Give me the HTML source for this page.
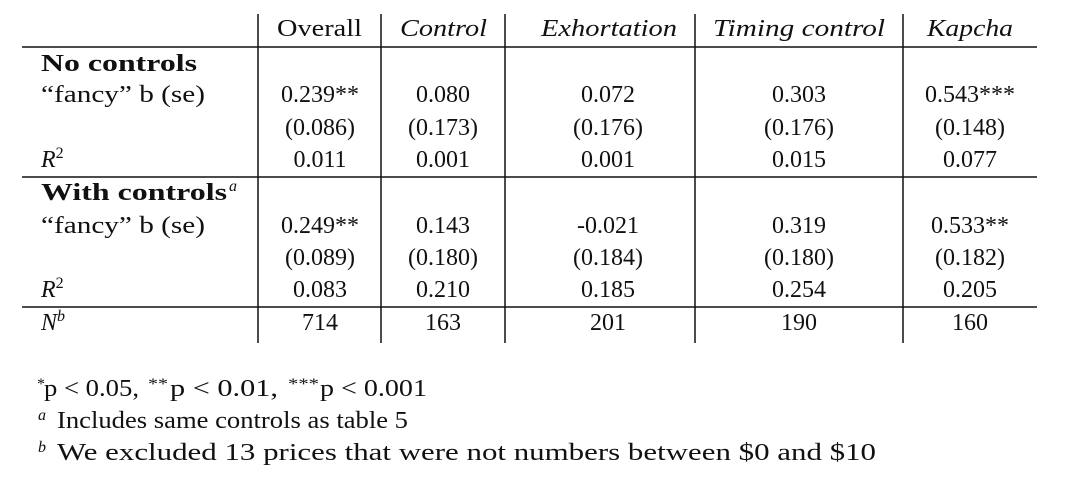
<!DOCTYPE html>
<html><head><meta charset="utf-8"><style>
html,body{margin:0;padding:0;background:#fff;}
svg{display:block;}
text{font-family:"Liberation Serif",serif;font-size:24px;fill:#111;}
.i{font-style:italic;}
.b{font-weight:bold;}
.s{font-size:16px;}
</style></head><body>
<svg width="1089" height="480">
<g stroke="#111" stroke-width="1.5">
<line x1="22" y1="47" x2="1037" y2="47"/>
<line x1="22" y1="177" x2="1037" y2="177"/>
<line x1="22" y1="307" x2="1037" y2="307"/>
<line x1="258" y1="14" x2="258" y2="343"/>
<line x1="381" y1="14" x2="381" y2="343"/>
<line x1="505" y1="14" x2="505" y2="343"/>
<line x1="695" y1="14" x2="695" y2="343"/>
<line x1="903" y1="14" x2="903" y2="343"/>
</g>
<g>
<text x="277" y="36" textLength="85" lengthAdjust="spacingAndGlyphs">Overall</text>
<text x="400" y="36" textLength="87" lengthAdjust="spacingAndGlyphs" class="i">Control</text>
<text x="541" y="36" textLength="136" lengthAdjust="spacingAndGlyphs" class="i">Exhortation</text>
<text x="713" y="36" textLength="172" lengthAdjust="spacingAndGlyphs" class="i">Timing control</text>
<text x="927" y="36" textLength="86" lengthAdjust="spacingAndGlyphs" class="i">Kapcha</text>
</g>
<g>
<text x="41" y="71" class="b" textLength="156" lengthAdjust="spacingAndGlyphs">No controls</text>
<text x="41" y="102" textLength="164" lengthAdjust="spacingAndGlyphs">“fancy” b (se)</text>
<text x="41" y="167" class="i">R<tspan dy="-9" font-size="16" font-style="normal">2</tspan></text>
<text x="41" y="200" class="b" textLength="186" lengthAdjust="spacingAndGlyphs">With controls</text>
<text x="229" y="191" class="s i">a</text>
<text x="41" y="233" textLength="164" lengthAdjust="spacingAndGlyphs">“fancy” b (se)</text>
<text x="41" y="297" class="i">R<tspan dy="-9" font-size="16" font-style="normal">2</tspan></text>
<text x="41" y="330" class="i">N<tspan dy="-9" font-size="16">b</tspan></text>
</g>
<g text-anchor="middle">
<text x="320" y="102">0.239**</text><text x="443" y="102">0.080</text><text x="608" y="102">0.072</text><text x="799" y="102">0.303</text><text x="970" y="102">0.543***</text>
<text x="320" y="135">(0.086)</text><text x="443" y="135">(0.173)</text><text x="608" y="135">(0.176)</text><text x="799" y="135">(0.176)</text><text x="970" y="135">(0.148)</text>
<text x="320" y="167">0.011</text><text x="443" y="167">0.001</text><text x="608" y="167">0.001</text><text x="799" y="167">0.015</text><text x="970" y="167">0.077</text>
<text x="320" y="233">0.249**</text><text x="443" y="233">0.143</text><text x="608" y="233">-0.021</text><text x="799" y="233">0.319</text><text x="970" y="233">0.533**</text>
<text x="320" y="265">(0.089)</text><text x="443" y="265">(0.180)</text><text x="608" y="265">(0.184)</text><text x="799" y="265">(0.180)</text><text x="970" y="265">(0.182)</text>
<text x="320" y="297">0.083</text><text x="443" y="297">0.210</text><text x="608" y="297">0.185</text><text x="799" y="297">0.254</text><text x="970" y="297">0.205</text>
<text x="320" y="330">714</text><text x="443" y="330">163</text><text x="608" y="330">201</text><text x="799" y="330">190</text><text x="970" y="330">160</text>
</g>
<g>
<text x="37" y="389" class="s">*</text>
<text x="44" y="396" textLength="95" lengthAdjust="spacingAndGlyphs">p &lt; 0.05,</text>
<text x="148" y="389" class="s" textLength="20" lengthAdjust="spacingAndGlyphs">**</text>
<text x="170" y="396" textLength="108" lengthAdjust="spacingAndGlyphs">p &lt; 0.01,</text>
<text x="288" y="389" class="s" textLength="31" lengthAdjust="spacingAndGlyphs">***</text>
<text x="320" y="396" textLength="107" lengthAdjust="spacingAndGlyphs">p &lt; 0.001</text>
<text x="38" y="420" class="s i">a</text>
<text x="57" y="428" textLength="351" lengthAdjust="spacingAndGlyphs">Includes same controls as table 5</text>
<text x="38" y="452" class="s i">b</text>
<text x="57" y="460" textLength="819" lengthAdjust="spacingAndGlyphs">We excluded 13 prices that were not numbers between $0 and $10</text>
</g>
</svg>
</body></html>
